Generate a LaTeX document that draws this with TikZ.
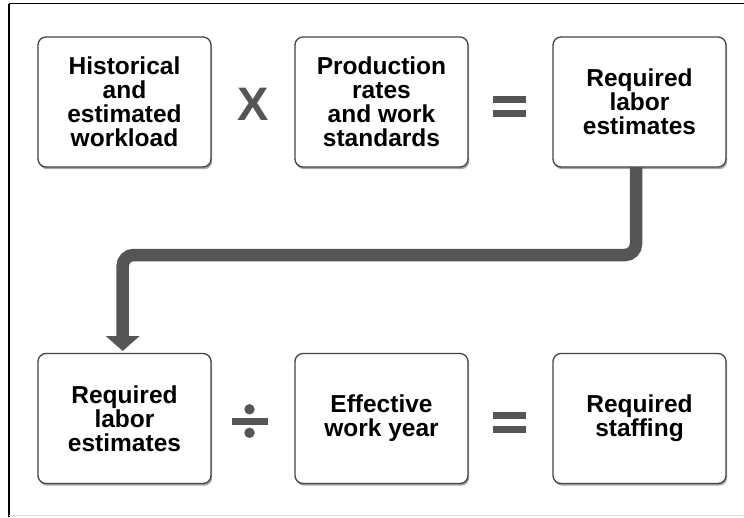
\documentclass[tikz,border=0pt]{standalone}
\usepackage{fontspec}
\setmainfont{Liberation Sans}
\usetikzlibrary{arrows.meta,shadows}
\definecolor{opgray}{HTML}{555555}
\definecolor{boxline}{HTML}{444444}
\tikzset{
  box/.style={draw=boxline, line width=1.3pt, fill=white, rounded corners=8pt,
    minimum width=173pt, minimum height=130pt, inner sep=0pt, align=center,
    font=\fontsize{24.5}{24}\selectfont\bfseries,
    drop shadow={shadow xshift=1.2pt, shadow yshift=-2.2pt, opacity=0.35, fill=black}},
  opbar/.style={fill=opgray, draw=none},
  flow/.style={draw=opgray, line width=12.5pt, rounded corners=11pt,
    -{Triangle[width=33pt,length=15pt]}},
  frame/.style={draw=black, line width=1.8pt}
}
\begin{document}
\begin{tikzpicture}[x=1pt,y=-1pt]
\useasboundingbox (0,0) rectangle (744,517);
% frame
\draw[frame] (9,3.5) -- (744,3.5);
\draw[draw=black, line width=1.4pt] (9,3.5) -- (9,517);
\draw[draw=gray!25, line width=1pt] (9,515) -- (744,515);
% boxes
\node[box] (h) at (124.5,102) {Historical\\and\\estimated\\workload};
\node[box] (p) at (381.5,102) {Production\\rates\\and work\\standards};
\node[box] (r1) at (639.5,102) {Required\\labor\\estimates};
\node[box] (r2) at (124.5,418.5) {Required\\labor\\estimates};
\node[box] (e) at (381.5,418.5) {Effective\\work year};
\node[box] (s) at (639.5,418.5) {Required\\staffing};
% operators
\node[text=opgray, font=\fontsize{47}{47}\selectfont\bfseries, inner sep=0pt] (times) at (253,104) {X};
\fill[opbar] (493,95.5) rectangle (526,102.5);
\fill[opbar] (493,109.5) rectangle (526,116.5);
\fill[opbar] (493,412.3) rectangle (526,419.3);
\fill[opbar] (493,426) rectangle (526,433);
\fill[opbar] (231.7,417.7) rectangle (267.7,424.7);
\fill[opgray] (249.5,409.3) circle (5.2);
\fill[opgray] (249.5,432.8) circle (5.2);
% connector
\coordinate (a0) at (636,167);
\coordinate (a1) at (636,255);
\coordinate (a2) at (122.7,255);
\coordinate (a3) at (122.7,351);
\draw[flow] (a0) -- (a1) -- (a2) -- (a3);
\end{tikzpicture}
\end{document}
